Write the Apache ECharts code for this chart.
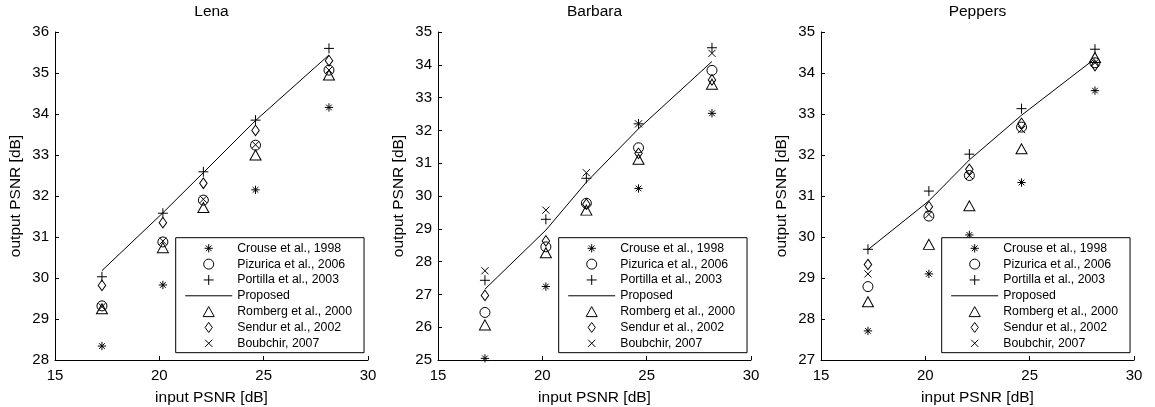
<!DOCTYPE html>
<html>
<head>
<meta charset="utf-8">
<script src="https://cdn.jsdelivr.net/npm/echarts@6/dist/echarts.min.js"></script>
<style>
  html, body { margin: 0; padding: 0; background: #fff; }
  #chart { width: 1155px; height: 407px; }
</style>
</head>
<body>
<div id="chart"></div>
<script>
// input PSNR for noise sigma = 35, 25, 20, 15, 10
const inputPsnr = [17.25, 20.17, 22.11, 24.61, 28.13]
const methodNames = ['Crouse et al., 1998', 'Pizurica et al., 2006', 'Portilla et al., 2003', 'Proposed',
  'Romberg et al., 2000', 'Sendur et al., 2002', 'Boubchir, 2007']
const titles = ['Lena', 'Barbara', 'Peppers']
const yMin = [28, 25, 27]
const yMax = [36, 35, 35]

// output PSNR, one value per input PSNR (null = not visible, under the legend)
const lenaCrouse = [28.34, 29.83, null, 32.15, 34.16]
const lenaPizurica = [29.32, 30.88, 31.9, 33.24, 35.07]
const lenaPortilla = [30.03, 31.58, 32.59, 33.85, 35.6]
const lenaProposed = [30.18, 31.59, 32.57, 33.84, 35.44]
const lenaRomberg = [29.25, 30.74, 31.72, 33.0, 34.95]
const lenaSendur = [29.82, 31.35, 32.31, 33.6, 35.3]
const lenaBoubchir = [29.3, 30.9, 31.92, 33.25, 35.07]

const barbaraCrouse = [25.05, 27.24, null, 30.23, 32.52]
const barbaraPizurica = [26.45, 28.45, 29.78, 31.47, 33.83]
const barbaraPortilla = [27.43, 29.29, 30.54, 32.2, 34.52]
const barbaraProposed = [27.16, 28.96, 30.42, 32.05, 34.1]
const barbaraRomberg = [26.07, 28.27, 29.57, 31.12, 33.41]
const barbaraSendur = [26.97, 28.63, 29.75, 31.3, 33.54]
const barbaraBoubchir = [27.72, 29.57, 30.71, 32.2, 34.35]

const peppersCrouse = [27.71, 29.1, 30.05, 31.33, 33.57]
const peppersPizurica = [28.79, 30.51, 31.5, 32.68, 34.25]
const peppersPortilla = [29.7, 31.12, 32.02, 33.13, 34.58]
const peppersProposed = [29.69, 30.88, 31.88, 32.97, 34.35]
const peppersRomberg = [28.42, 29.82, 30.76, 32.15, 34.38]
const peppersSendur = [29.33, 30.74, 31.65, 32.77, 34.18]
const peppersBoubchir = [29.1, 30.55, 31.5, 32.62, 34.25]

const panelValues = [
  [lenaCrouse, lenaPizurica, lenaPortilla, lenaProposed, lenaRomberg, lenaSendur, lenaBoubchir],
  [barbaraCrouse, barbaraPizurica, barbaraPortilla, barbaraProposed, barbaraRomberg, barbaraSendur, barbaraBoubchir],
  [peppersCrouse, peppersPizurica, peppersPortilla, peppersProposed, peppersRomberg, peppersSendur, peppersBoubchir]
]

const FONT = '"Liberation Sans", Arial, Helvetica, sans-serif'
const panelLeft = [55, 438, 821]
const panelWidth = 313
const panelTop = 32
const panelHeight = 328

// marker shapes (stroked, no fill), like matlab's * o + ^ d x
const markers = [
  { symbol: 'path://M0,5L10,5M5,0L5,10M1.6,1.6L8.4,8.4M1.6,8.4L8.4,1.6M-1,-1L-1,-1M11,11L11,11', size: 10 },
  { symbol: 'circle', size: 10 },
  { symbol: 'path://M0,5L10,5M5,0L5,10', size: 10 },
  null,
  { symbol: 'path://M5,0L10,9L0,9Z', size: [11, 10] },
  { symbol: 'path://M4,0L8,5.5L4,11L0,5.5Z', size: [7.5, 10.5] },
  { symbol: 'path://M0,0L10,10M0,10L10,0M-2,-2L-2,-2M12,12L12,12', size: 10 }
]

// legend entries: the line entry gets no dot in the middle
const legendData = methodNames.map((n, m) =>
  markers[m] === null ? { name: n, itemStyle: { color: 'rgba(0,0,0,0)', borderWidth: 0 } } : n)

const chart = echarts.init(document.getElementById('chart'))

const grids = []
const xAxes = []
const yAxes = []
const legends = []
const series = []

for (let p = 0; p < 3; p++) {
  grids.push({
    left: panelLeft[p],
    top: panelTop,
    width: panelWidth,
    height: panelHeight,
    outerBoundsMode: 'none'
  })
  xAxes.push({
    gridIndex: p,
    type: 'value',
    min: 15,
    max: 30,
    interval: 5,
    name: 'input PSNR [dB]',
    nameLocation: 'middle',
    nameGap: 30,
    nameTextStyle: { color: '#000', fontSize: 15.5, fontFamily: FONT },
    axisLine: { show: true, onZero: false, lineStyle: { color: '#000', width: 1 } },
    axisTick: { show: true, inside: true, length: 4, lineStyle: { color: '#000' } },
    axisLabel: { color: '#000', fontSize: 15, fontFamily: FONT, margin: 8 },
    splitLine: { show: false }
  })
  yAxes.push({
    gridIndex: p,
    type: 'value',
    min: yMin[p],
    max: yMax[p],
    interval: 1,
    name: 'output PSNR [dB]',
    nameLocation: 'middle',
    nameGap: 31,
    nameTextStyle: { color: '#000', fontSize: 15.5, fontFamily: FONT },
    axisLine: { show: true, onZero: false, lineStyle: { color: '#000', width: 1 } },
    axisTick: { show: true, inside: true, length: 4, lineStyle: { color: '#000' } },
    axisLabel: { color: '#000', fontSize: 15, fontFamily: FONT, margin: 6 },
    splitLine: { show: false }
  })
  legends.push({
    data: legendData,
    orient: 'vertical',
    left: panelLeft[p] + 120.7,
    top: 237.7,
    itemWidth: 47,
    itemHeight: 10,
    itemGap: 1.83,
    padding: [3.6, 12, 2.4, 9],
    backgroundColor: '#fff',
    borderColor: '#000',
    borderWidth: 1,
    borderRadius: 0,
    selectedMode: false,
    itemStyle: { borderWidth: 1 },
    lineStyle: { width: 1 },
    textStyle: { color: '#000', fontSize: 12.3, fontFamily: FONT, lineHeight: 14 }
  })

  panelValues[p].forEach((vals, m) => {
    const data = []
    vals.forEach((v, i) => { if (v !== null) data.push([inputPsnr[i], v]) })
    if (markers[m] === null) {
      series.push({
        name: methodNames[m],
        type: 'line',
        xAxisIndex: p,
        yAxisIndex: p,
        data: data,
        symbol: 'none',
        lineStyle: { color: '#000', width: 1 },
        itemStyle: { color: '#000' },
        silent: true
      })
    } else {
      series.push({
        name: methodNames[m],
        type: 'scatter',
        xAxisIndex: p,
        yAxisIndex: p,
        data: data,
        symbol: markers[m].symbol,
        symbolSize: markers[m].size,
        itemStyle: { color: 'rgba(0,0,0,0)', borderColor: '#000', borderWidth: 1, opacity: 1 },
        silent: true
      })
    }
  })
}

chart.setOption({
  animation: false,
  backgroundColor: '#fff',
  title: titles.map((t, i) => ({
    text: t,
    left: panelLeft[i] + panelWidth / 2,
    top: 4,
    textAlign: 'center',
    padding: 0,
    textStyle: { color: '#000', fontSize: 15.5, fontWeight: 'normal', fontFamily: FONT }
  })),
  grid: grids,
  xAxis: xAxes,
  yAxis: yAxes,
  legend: legends,
  series: series
})
</script>
</body>
</html>
